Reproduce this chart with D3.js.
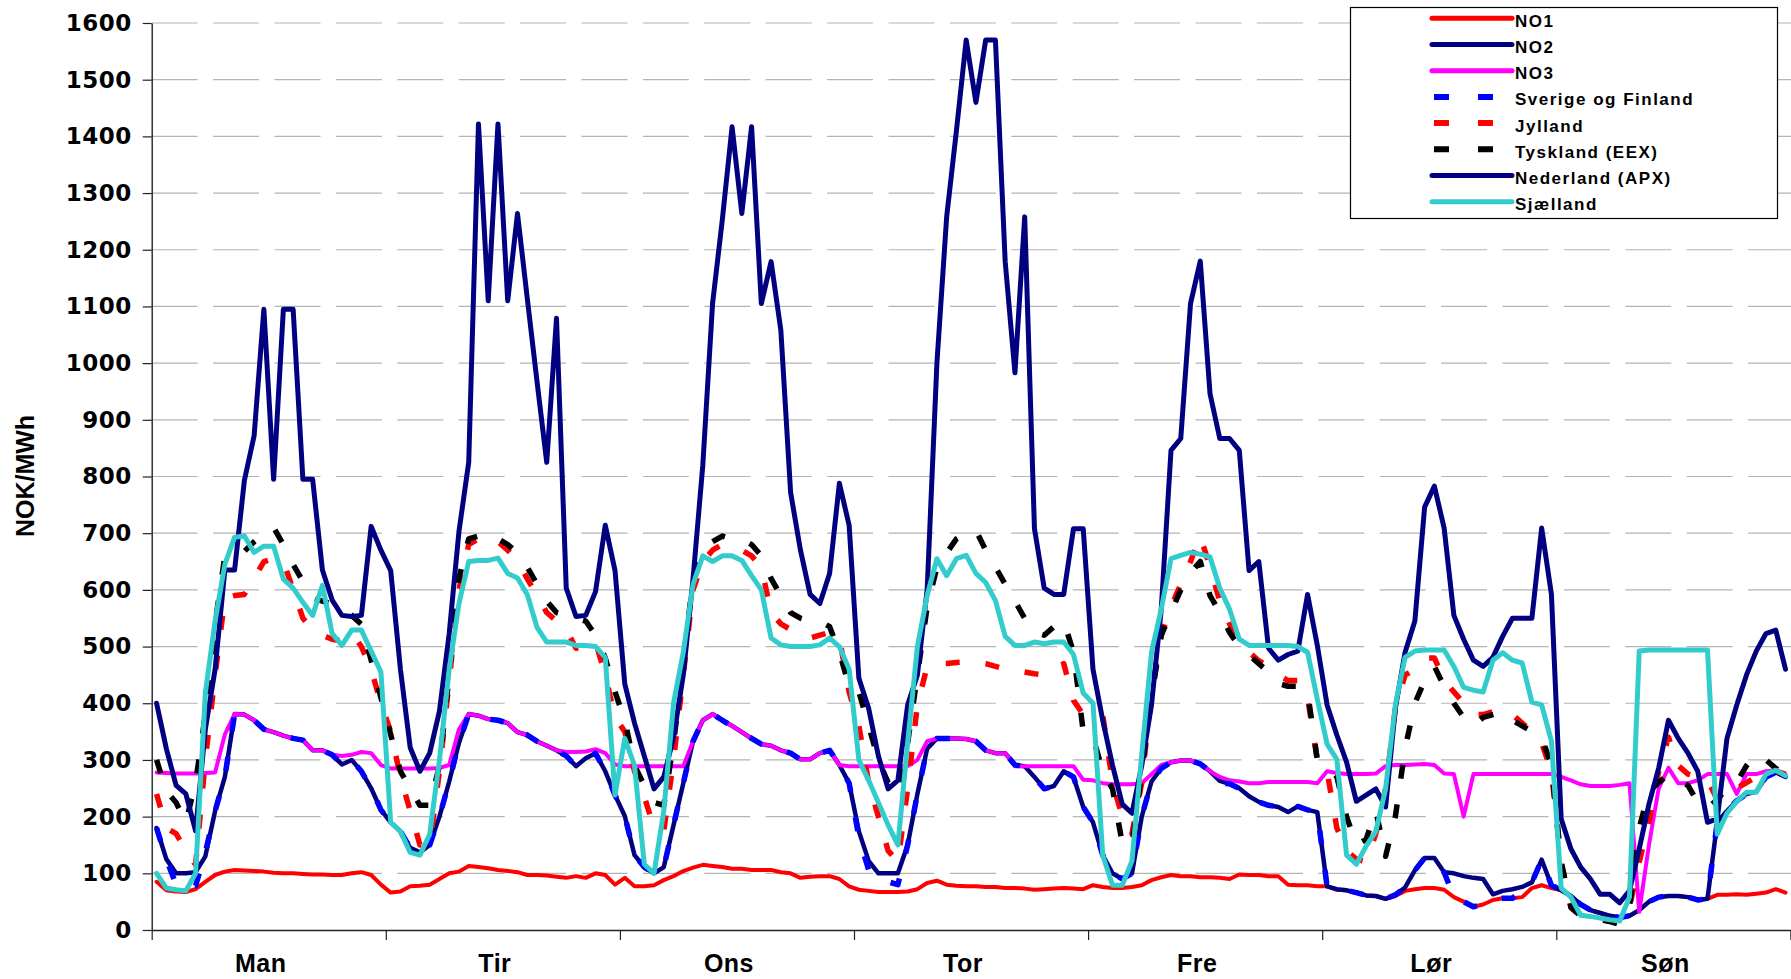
<!DOCTYPE html>
<html>
<head>
<meta charset="utf-8">
<script src="https://cdn.jsdelivr.net/npm/d3@7"></script>
<style>
  body { margin: 0; background: #fff; }
  svg { display: block; }
</style>
</head>
<body>
<svg id="chart" width="1791" height="979"></svg>
<script>
// hourly prices, one week (Mon..Sun), NOK/MWh
const days = ["Man", "Tir", "Ons", "Tor", "Fre", "Lør", "Søn"];
const yTicks = d3.range(0, 1601, 100);

const no1 = [
  85,70,68,67,72,85,97,103,106,105,104,103,101,100,100,99,98,98,97,97,100,102,97,80,
  66,68,77,78,80,90,100,103,113,111,109,106,104,102,97,97,96,94,92,95,92,100,97,80,
  92,77,77,79,88,95,104,110,115,113,111,108,108,106,106,106,102,100,92,94,95,95,90,77,
  71,69,67,67,67,68,72,83,87,80,78,77,77,76,76,74,74,73,71,72,73,74,73,72,
  79,76,74,74,76,79,88,93,97,95,95,93,93,92,90,98,97,97,95,95,80,79,79,77,
  77,71,70,66,61,60,55,60,69,72,74,74,71,58,50,41,45,53,56,56,58,74,79,74,
  70,60,45,35,30,25,22,25,35,50,58,60,60,58,53,55,62,62,63,62,64,66,72,66
];
const no2 = [
  180,125,100,100,102,130,210,270,381,380,370,354,349,343,338,335,317,317,309,292,300,280,250,212,
  190,174,145,137,150,200,262,330,381,378,372,370,365,349,344,333,325,317,307,289,303,312,280,238,
  201,132,111,100,111,185,259,333,370,381,370,360,349,338,328,325,317,312,301,301,312,317,291,259,
  174,122,100,100,100,150,240,320,338,338,338,337,333,317,312,312,291,289,270,249,254,280,270,217,
  190,132,100,90,100,200,262,285,296,299,299,293,280,263,258,250,236,226,220,217,208,218,212,208,
  77,72,70,66,61,60,55,62,75,105,127,127,102,100,95,92,90,63,69,72,76,84,124,79,
  70,60,45,35,30,25,22,25,35,50,58,60,60,58,53,55,190,210,228,240,244,270,278,270
];
const no3 = [
  278,277,276,276,276,277,278,345,381,380,370,354,349,343,338,335,317,317,309,307,309,314,312,291,
  285,285,285,285,285,286,291,354,381,378,372,370,365,349,344,333,325,317,314,314,315,319,312,292,
  289,289,289,289,289,289,289,333,370,381,370,360,349,338,328,325,317,312,301,301,312,317,291,289,
  289,289,289,289,289,289,300,333,338,338,338,337,333,317,312,312,289,289,289,289,289,289,289,265,
  264,259,257,257,257,259,275,291,296,299,299,293,280,270,264,262,259,259,261,261,261,261,261,259,
  280,277,275,275,275,276,289,291,291,292,293,291,276,275,200,275,275,275,275,275,275,275,275,275,
  270,264,257,254,254,254,256,259,32,150,250,286,259,259,264,275,275,275,240,275,275,280,282,275
];
const sverige = [
  180,125,80,72,78,137,210,270,381,380,370,354,349,343,338,335,317,317,309,292,300,280,250,212,
  190,174,145,137,150,200,262,330,381,378,372,370,365,349,344,333,325,317,307,289,296,312,280,238,
  201,132,111,100,111,185,259,333,370,381,370,360,349,338,328,325,317,312,301,301,312,317,291,259,
  164,106,92,85,80,150,240,320,338,338,338,337,333,317,312,312,291,289,270,249,254,280,270,217,
  190,132,100,90,100,200,262,285,296,299,299,293,280,259,258,250,236,226,220,217,208,218,212,208,
  77,72,70,66,61,60,55,62,75,105,127,127,102,58,50,41,45,53,56,56,70,84,124,79,
  70,60,45,35,30,25,22,25,35,50,58,60,60,58,53,55,190,210,228,240,244,270,278,270
];
const jylland = [
  240,180,170,140,115,300,450,585,590,592,620,650,655,650,600,550,530,520,513,510,523,500,460,400,
  350,270,210,150,150,280,440,600,680,690,695,685,670,650,620,590,560,545,530,497,500,508,450,375,
  350,280,235,180,175,300,450,600,650,670,680,675,670,660,640,560,540,530,520,515,520,525,515,420,
  360,260,200,140,120,250,397,465,470,470,472,473,472,470,465,460,458,455,452,450,460,470,405,380,
  385,380,260,200,170,260,420,520,570,610,650,695,640,580,540,510,490,475,465,450,440,440,410,300,
  280,180,140,125,120,170,250,390,450,460,480,480,440,420,400,380,380,385,390,380,365,350,330,280,
  120,40,25,20,18,16,15,40,120,190,280,340,290,275,270,265,230,240,250,260,270,275,280,275
];
const tyskland = [
  300,245,225,190,260,380,540,660,665,668,685,700,710,680,645,615,587,580,575,571,555,539,476,410,
  345,280,250,220,220,290,450,620,690,695,700,690,680,665,640,610,580,560,555,550,545,520,480,420,
  370,290,255,225,220,330,470,620,670,685,695,690,690,680,660,620,590,560,550,545,545,535,490,430,
  420,360,300,260,240,330,450,570,640,665,690,700,705,670,640,610,580,550,525,520,535,545,490,350,
  340,280,249,153,148,280,410,520,560,600,630,650,590,560,525,500,485,470,455,435,430,430,420,300,
  290,270,200,150,160,210,130,200,320,400,440,465,430,400,375,360,375,380,385,370,360,350,340,290,
  120,40,25,20,18,15,10,40,180,245,260,275,265,255,225,215,230,250,260,290,310,300,285,275
];
const nederland = [
  400,320,255,240,175,354,460,635,635,793,872,1095,795,1095,1095,795,795,635,582,555,553,555,712,670,
  634,460,322,280,312,386,523,703,825,1422,1110,1422,1110,1264,1115,968,825,1079,603,553,555,597,714,634,
  434,365,307,249,270,340,450,620,820,1105,1253,1417,1264,1417,1105,1179,1058,772,671,592,576,629,788,714,
  444,391,307,249,264,397,450,600,1000,1258,1410,1570,1460,1570,1570,1179,983,1258,708,603,592,592,708,708,
  460,370,291,222,206,290,397,566,846,867,1105,1180,946,867,867,846,634,650,497,476,486,492,592,502,
  397,344,296,227,238,249,217,391,490,545,746,783,709,555,513,476,465,481,518,550,550,550,709,592,
  196,143,111,90,63,63,48,69,143,222,286,370,338,312,280,190,196,338,397,450,492,523,529,460
];
const sjaelland = [
  100,74,71,69,100,418,545,645,693,695,666,677,677,619,603,578,555,608,523,502,529,529,492,455,
  190,174,137,132,169,300,460,576,650,652,652,656,629,621,592,534,508,508,508,502,502,500,481,238,
  338,290,116,100,210,400,490,610,660,650,660,660,652,625,600,515,503,500,500,500,503,515,500,460,
  300,264,225,185,150,330,500,590,655,625,655,661,629,613,581,518,502,502,508,505,508,508,486,418,
  400,132,79,79,122,310,490,566,655,661,666,663,658,603,566,513,502,502,502,502,502,500,490,407,
  328,301,132,116,148,174,249,397,481,492,494,494,494,465,428,423,420,476,489,476,471,402,397,333,
  74,58,26,24,21,18,16,58,492,494,494,494,494,494,494,494,169,206,227,243,243,275,282,272
];

// draw order = legend order, last one on top
const series = [
  { name: "NO1", values: no1, color: "#ff0000", width: 4 },
  { name: "NO2", values: no2, color: "#000080", width: 4.5 },
  { name: "NO3", values: no3, color: "#ff00ff", width: 4 },
  { name: "Sverige og Finland", values: sverige, color: "#0000ff", width: 5.5, dash: "14,26" },
  { name: "Jylland", values: jylland, color: "#ff0000", width: 5.5, dash: "14,26" },
  { name: "Tyskland (EEX)", values: tyskland, color: "#000000", width: 5.5, dash: "14,26" },
  { name: "Nederland (APX)", values: nederland, color: "#000080", width: 5 },
  { name: "Sjælland", values: sjaelland, color: "#33cccc", width: 5 }
];

const W = 1791;
const plotLeft = 151.7, plotRight = 1790.4, plotTop = 23, plotBottom = 930;

const svg = d3.select("#chart");

const x = d3.scaleLinear().domain([0, 168]).range([plotLeft, plotRight]);
const y = d3.scaleLinear().domain([0, 1600]).range([plotBottom, plotTop]);
const xDay = d3.scaleBand().domain(days).range([plotLeft, plotRight]);

// dashed grey gridlines
svg.append("g")
  .selectAll("line")
  .data(yTicks.filter(d => d > 0))
  .join("line")
  .attr("x1", plotLeft)
  .attr("x2", W)
  .attr("y1", d => y(d))
  .attr("y2", d => y(d))
  .attr("stroke", "#b4b4b4")
  .attr("stroke-width", 1.2)
  .attr("stroke-dasharray", "46,15.4");

// y axis
const yAxis = svg.append("g")
  .attr("transform", `translate(${plotLeft},0)`)
  .call(d3.axisLeft(y).tickValues(yTicks).tickFormat(d3.format("d"))
    .tickSize(9).tickSizeOuter(0).tickPadding(11));
yAxis.select(".domain").attr("stroke", "#222").attr("stroke-width", 1.4);
yAxis.selectAll(".tick line").attr("stroke", "#222").attr("stroke-width", 1.2);
yAxis.selectAll(".tick text")
  .attr("font-family", "DejaVu Sans")
  .attr("font-weight", "bold")
  .attr("font-size", 23)
  .attr("letter-spacing", 0.5)
  .attr("fill", "#000");

// x axis: tick marks at day boundaries
const xAxis = svg.append("g")
  .attr("transform", `translate(0,${plotBottom})`)
  .call(d3.axisBottom(x).tickValues(d3.range(0, 169, 24)).tickSize(10).tickSizeOuter(0).tickFormat(""));
xAxis.select(".domain").attr("stroke", "#222").attr("stroke-width", 1.6);
xAxis.selectAll(".tick line").attr("stroke", "#222").attr("stroke-width", 1.2);

// day labels
const dayAxis = svg.append("g")
  .attr("transform", `translate(-8,${plotBottom})`)
  .call(d3.axisBottom(xDay).tickSize(0).tickPadding(24));
dayAxis.select(".domain").remove();
dayAxis.selectAll(".tick text")
  .attr("font-family", "Liberation Sans, Arial, sans-serif")
  .attr("font-weight", "bold")
  .attr("font-size", 25)
  .attr("letter-spacing", 0.5)
  .attr("fill", "#000");

// y title
svg.append("text")
  .attr("transform", "translate(34,476) rotate(-90)")
  .attr("text-anchor", "middle")
  .attr("font-family", "Liberation Sans, Arial, sans-serif")
  .attr("font-weight", "bold")
  .attr("font-size", 25)
  .text("NOK/MWh");

// lines
const line = d3.line()
  .x((d, i) => x(i + 0.5))
  .y(d => y(d));

svg.append("g")
  .selectAll("path")
  .data(series)
  .join("path")
  .attr("fill", "none")
  .attr("stroke", d => d.color)
  .attr("stroke-width", d => d.width)
  .attr("stroke-dasharray", d => d.dash || null)
  .attr("stroke-linejoin", "round")
  .attr("stroke-linecap", d => d.dash ? "butt" : "round")
  .attr("d", d => line(d.values));

// legend
const legend = svg.append("g");
legend.append("rect")
  .attr("x", 1350.5).attr("y", 7.5)
  .attr("width", 427).attr("height", 211)
  .attr("fill", "#fff")
  .attr("stroke", "#000")
  .attr("stroke-width", 1.2);

const rowY = i => 18.3 + i * 26.2;
const rows = legend.selectAll("g.row")
  .data(series)
  .join("g")
  .attr("class", "row")
  .attr("transform", (d, i) => `translate(0,${rowY(i)})`);

rows.append("line")
  .attr("x1", d => d.dash ? 1434 : 1432)
  .attr("x2", d => d.dash ? 1493 : 1512)
  .attr("stroke", d => d.color)
  .attr("stroke-width", d => d.dash ? 6 : 5)
  .attr("stroke-linecap", d => d.dash ? "butt" : "round")
  .attr("stroke-dasharray", d => d.dash ? "15,29" : null);

rows.append("text")
  .attr("x", 1515)
  .attr("y", 8.5)
  .attr("font-family", "Liberation Sans, Arial, sans-serif")
  .attr("font-weight", "bold")
  .attr("font-size", 17)
  .attr("letter-spacing", 1.5)
  .text(d => d.name);
</script>
</body>
</html>
